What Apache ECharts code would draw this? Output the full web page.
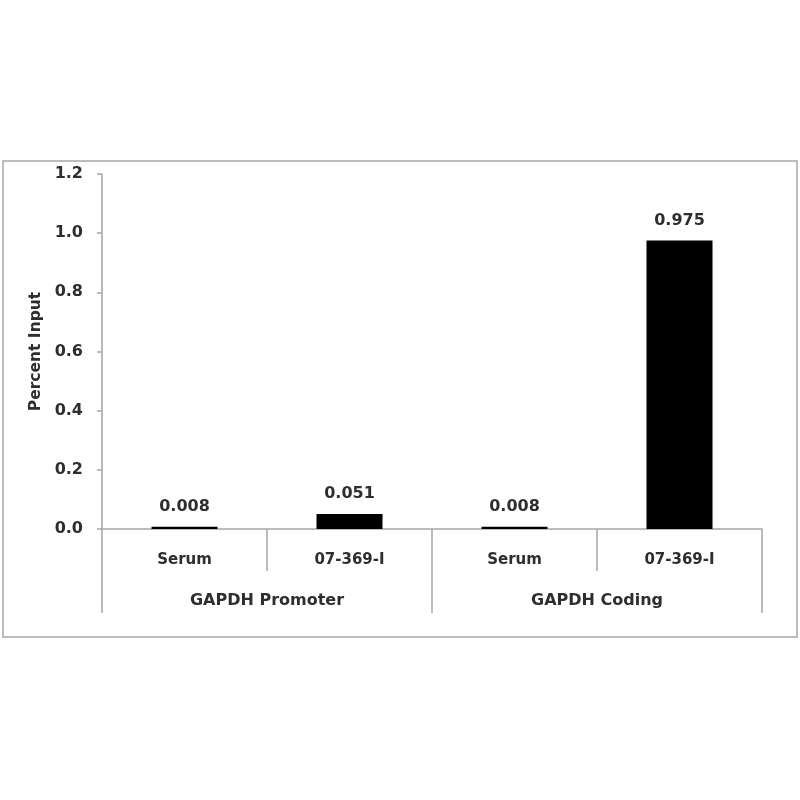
<!DOCTYPE html>
<html>
<head>
<meta charset="utf-8">
<script src="https://cdn.jsdelivr.net/npm/echarts@6/dist/echarts.min.js"></script>
<style>html,body{margin:0;padding:0;background:#fff;}#chart{width:800px;height:800px;}</style>
</head>
<body>
<div id="chart"></div>
<script>
const categories = ['Serum', '07-369-I', 'Serum', '07-369-I'];
const groups = ['GAPDH Promoter', 'GAPDH Coding'];
const values = [0.008, 0.051, 0.008, 0.975];
const yTitle = 'Percent Input';

const chart = echarts.init(document.getElementById('chart'));
const font = '"DejaVu Sans", sans-serif';
const txt = '#2e2e2e';
const axisGrey = '#a6a6a6';
chart.setOption({
  animation: false,
  backgroundColor: '#fff',
  graphic: [{
    type: 'rect', shape: {x: 3, y: 161, width: 794, height: 476},
    style: {fill: 'none', stroke: axisGrey, lineWidth: 1.5}
  }],
  grid: {left: 102, right: 38, top: 174, bottom: 271},
  xAxis: [{
    type: 'category', data: categories, position: 'bottom',
    axisLine: {show: true, lineStyle: {color: axisGrey, width: 1.5}},
    axisTick: {show: true, interval: 0, length: 42, lineStyle: {color: axisGrey, width: 1.5}},
    axisLabel: {interval: 0, margin: 24, color: txt, fontFamily: font, fontWeight: 'bold', fontSize: 15}
  }, {
    type: 'category', data: groups, position: 'bottom',
    axisLine: {show: false},
    axisTick: {show: true, interval: 0, length: 84, lineStyle: {color: axisGrey, width: 1.5}},
    axisLabel: {interval: 0, margin: 64, color: txt, fontFamily: font, fontWeight: 'bold', fontSize: 16}
  }],
  yAxis: {
    type: 'value', min: 0, max: 1.2, interval: 0.2,
    name: yTitle, nameLocation: 'middle', nameGap: 58, nameRotate: 90,
    nameTextStyle: {color: txt, fontFamily: font, fontWeight: 'bold', fontSize: 15.5},
    axisLine: {show: true, lineStyle: {color: axisGrey, width: 1.5}},
    axisTick: {show: true, length: 5, lineStyle: {color: axisGrey, width: 1.5}},
    splitLine: {show: false},
    axisLabel: {margin: 19, color: txt, fontFamily: font, fontWeight: 'bold', fontSize: 16,
      formatter: v => v.toFixed(1)}
  },
  series: [{
    type: 'bar', data: values, xAxisIndex: 0, barWidth: '40%',
    itemStyle: {color: '#000'},
    label: {show: true, position: 'top', distance: 12, color: txt, fontFamily: font,
      fontWeight: 'bold', fontSize: 16, formatter: p => p.value.toFixed(3)}
  }]
});
</script>
</body>
</html>
